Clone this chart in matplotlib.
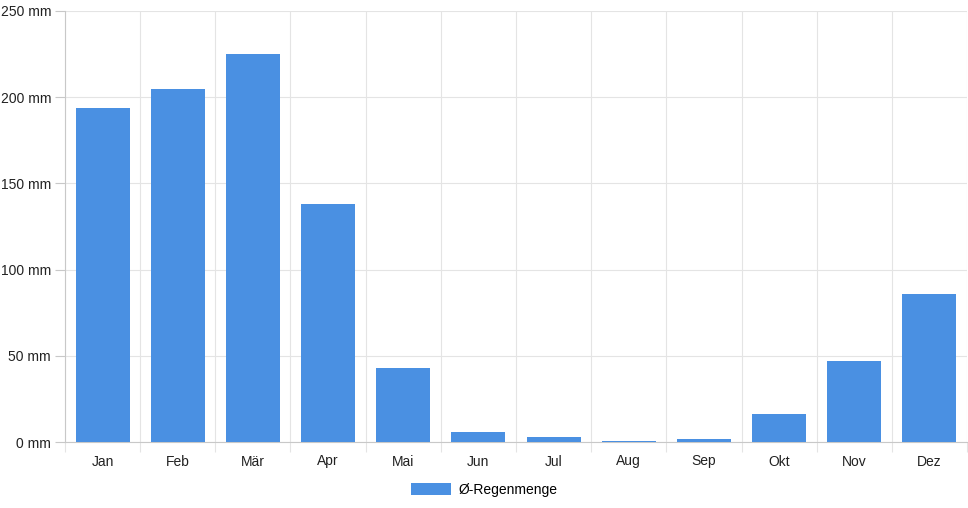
import matplotlib
matplotlib.use("Agg")
import matplotlib.pyplot as plt
import numpy as np
from matplotlib.patches import Patch

# ---------- DATA ----------
months = ["Jan", "Feb", "Mär", "Apr", "Mai", "Jun", "Jul", "Aug", "Sep", "Okt", "Nov", "Dez"]
rain_mm = [194, 205, 225, 138, 43, 6, 3, 0.7, 1.8, 16, 47, 86]
y_ticks = [0, 50, 100, 150, 200, 250]

BAR_COLOR = "#4a90e2"
GRID_COLOR = "#e4e4e4"
AXIS_COLOR = "#c8c8c8"

plt.rcParams["font.family"] = ["Liberation Sans", "DejaVu Sans"]
plt.rcParams["font.size"] = 10

fig = plt.figure(figsize=(9.68, 5.08), dpi=100)
ax = fig.add_axes([65 / 968, 66 / 508, 902 / 968, 431 / 508])

x = np.arange(len(months))
ax.bar(x, rain_mm, width=0.72, color=BAR_COLOR, zorder=3)

ax.set_xlim(-0.5, len(months) - 0.5)
ax.set_ylim(0, 250)

# y axis
ax.set_yticks(y_ticks)
ax.set_yticklabels([f"{v} mm" for v in y_ticks])
ax.tick_params(axis="y", length=7, width=0.8, color=AXIS_COLOR, pad=3, labelcolor="#222222")
ax.yaxis.grid(True, color=GRID_COLOR, linewidth=0.8, zorder=0)

# x axis: labels at centres, grid lines at boundaries
ax.set_xticks(x)
ax.set_xticklabels(months)
ax.tick_params(axis="x", length=0, pad=9, labelcolor="#222222")
ax.set_xticks(np.arange(len(months) + 1) - 0.5, minor=True)
ax.tick_params(axis="x", which="minor", length=7, width=0.8, color=GRID_COLOR)
ax.xaxis.grid(True, which="minor", color=GRID_COLOR, linewidth=0.8, zorder=0)

for side in ["top", "right"]:
    ax.spines[side].set_visible(False)
ax.spines["left"].set_color(AXIS_COLOR)
ax.spines["bottom"].set_color(AXIS_COLOR)
ax.spines["left"].set_linewidth(0.8)
ax.spines["bottom"].set_linewidth(0.8)

handle = Patch(facecolor=BAR_COLOR, edgecolor="none")
fig.legend([handle], ["Ø-Regenmenge"], loc="center", bbox_to_anchor=(484 / 968, 1 - 490 / 508),
           frameon=False, handlelength=2.9, handleheight=1.0, handletextpad=0.5, fontsize=10)

fig.savefig("out.png", dpi=100)
